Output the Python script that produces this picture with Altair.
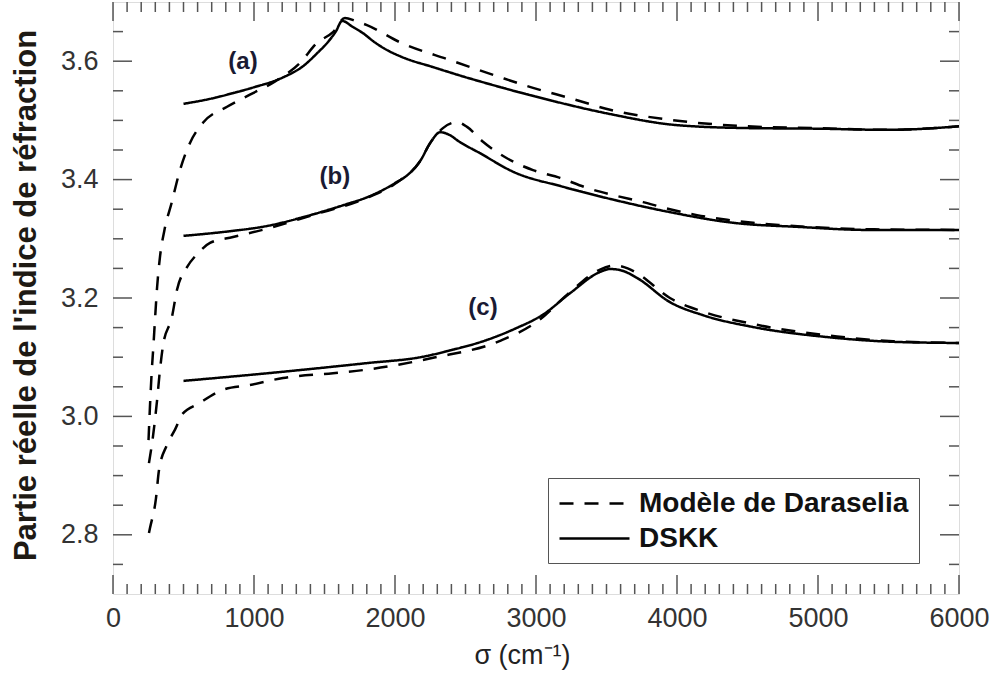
import altair as alt
import pandas as pd

# Wavenumber (cm-1) and real refractive index for the three samples
a_dskk_x = [500, 700, 850, 1000, 1200, 1350, 1450, 1530, 1580, 1625, 1700, 1775, 1850, 1920,
            2050, 2270, 2500, 2750, 3100, 3500, 4000, 4500, 5000, 5500, 6000]
a_dskk_y = [3.528, 3.537, 3.546, 3.556, 3.572, 3.592, 3.614, 3.634, 3.650, 3.668, 3.658, 3.647,
            3.633, 3.622, 3.607, 3.590, 3.573, 3.556, 3.534, 3.512, 3.492, 3.487, 3.486, 3.484, 3.490]
a_dara_x = [252, 262, 274, 286, 299, 313, 333, 365, 415, 475, 546, 638, 809, 993, 1150, 1326,
            1447, 1560, 1645, 1720, 1801, 2035, 2390, 2745, 2979, 3250, 3525, 3950, 4500, 5000,
            5500, 6000]
a_dara_y = [2.960, 3.016, 3.073, 3.117, 3.168, 3.219, 3.269, 3.315, 3.360, 3.416, 3.462, 3.496,
            3.523, 3.546, 3.566, 3.597, 3.631, 3.649, 3.673, 3.668, 3.661, 3.632, 3.602, 3.573,
            3.555, 3.537, 3.518, 3.501, 3.490, 3.487, 3.484, 3.490]

b_dskk_x = [500, 800, 1100, 1400, 1650, 1800, 2000, 2100, 2180, 2250, 2320, 2390, 2450, 2600,
            2840, 3190, 3550, 3930, 4400, 4870, 5350, 6000]
b_dskk_y = [3.305, 3.312, 3.322, 3.340, 3.358, 3.370, 3.394, 3.410, 3.432, 3.462, 3.480, 3.475,
            3.465, 3.445, 3.413, 3.388, 3.366, 3.346, 3.327, 3.320, 3.315, 3.315]
b_dara_x = [255, 284, 312, 333, 355, 418, 454, 525, 600, 688, 851, 1092, 1400, 1800, 2000, 2180,
            2250, 2340, 2440, 2511, 2624, 2794, 2979, 3170, 3362, 3546, 3759, 3950, 4142, 4355,
            4539, 4752, 4943, 5400, 6000]
b_dara_y = [2.921, 2.967, 3.026, 3.078, 3.120, 3.168, 3.214, 3.252, 3.275, 3.293, 3.303, 3.317,
            3.339, 3.369, 3.393, 3.432, 3.462, 3.487, 3.497, 3.489, 3.464, 3.436, 3.416, 3.403,
            3.386, 3.374, 3.362, 3.350, 3.340, 3.332, 3.327, 3.323, 3.320, 3.316, 3.315]

c_dskk_x = [500, 1100, 1800, 2180, 2400, 2650, 2850, 3050, 3241, 3454, 3525, 3600, 3716,
            3950, 4184, 4539, 5064, 5532, 6000]
c_dskk_y = [3.060, 3.073, 3.090, 3.100, 3.112, 3.129, 3.148, 3.172, 3.208, 3.244, 3.249,
            3.247, 3.234, 3.193, 3.171, 3.151, 3.134, 3.126, 3.124]
c_dara_x = [255, 262, 305, 326, 383, 454, 475, 617, 780, 972, 1206, 1560, 1800, 2270, 2750, 3007,
            3241, 3454, 3560, 3650, 3716, 3950, 4184, 4539, 5135, 5532, 6000]
c_dara_y = [2.803, 2.811, 2.862, 2.909, 2.952, 2.985, 2.999, 3.023, 3.045, 3.053, 3.065, 3.073,
            3.079, 3.099, 3.128, 3.160, 3.210, 3.248, 3.255, 3.250, 3.242, 3.200, 3.177, 3.156,
            3.135, 3.127, 3.124]

series_names = ["Modèle de Daraselia", "DSKK"]

# Curve labels
label_text = ["(a)", "(b)", "(c)"]
label_x = [922, 1574, 2624]
label_y = [3.599, 3.404, 3.183]

curves = [
    ("a", series_names[1], a_dskk_x, a_dskk_y),
    ("a", series_names[0], a_dara_x, a_dara_y),
    ("b", series_names[1], b_dskk_x, b_dskk_y),
    ("b", series_names[0], b_dara_x, b_dara_y),
    ("c", series_names[1], c_dskk_x, c_dskk_y),
    ("c", series_names[0], c_dara_x, c_dara_y),
]
rows = []
for curve, series, xs, ys in curves:
    for i, (xv, yv) in enumerate(zip(xs, ys)):
        rows.append({"curve": curve + series, "series": series, "sigma": xv, "n": yv, "i": i})
lines_df = pd.DataFrame(rows)
labels_df = pd.DataFrame({"text": label_text, "sigma": label_x, "n": label_y})

W, H = 846, 592
xscale = alt.Scale(domain=[0, 6000], nice=False, zero=False)
yscale = alt.Scale(domain=[2.7, 3.7], nice=False, zero=False)

x_major = list(range(0, 6001, 1000))
x_minor = [v for v in range(0, 6001, 100) if v % 1000]
y_major = [2.8, 3.0, 3.2, 3.4, 3.6]
y_minor = [2.75, 2.85, 2.9, 2.95, 3.05, 3.1, 3.15, 3.25, 3.3, 3.35, 3.45, 3.5, 3.55, 3.65]

tick_color = "#555555"

x_axis = alt.Axis(values=x_major, format="d", ticks=False, domain=False, grid=False,
                  labelFlush=False, labelFont="Liberation Sans", labelFontSize=27,
                  labelColor="#333333", labelPadding=11, title="σ (cm⁻¹)",
                  titleFont="Liberation Sans", titleFontSize=27, titleFontWeight="normal",
                  titleColor="#222222", titleX=409, titleY=61, titleAlign="center",
                  titleBaseline="middle")
y_axis = alt.Axis(values=y_major, format=".1f", ticks=False, domain=False, grid=False,
                  labelFont="Liberation Sans", labelFontSize=27, labelColor="#333333",
                  labelPadding=15, title="Partie réelle de l'indice de réfraction",
                  titleFont="Liberation Sans", titleFontSize=31, titleFontWeight="bold",
                  titleColor="#1e1a14", titleAngle=270, titleX=-87, titleY=293,
                  titleAlign="center", titleBaseline="middle")

X = alt.X("sigma:Q", scale=xscale, axis=x_axis)
Y = alt.Y("n:Q", scale=yscale, axis=y_axis)

lines = alt.Chart(lines_df).mark_line(color="black", strokeWidth=2.5, interpolate="monotone").encode(
    x=X,
    y=Y,
    detail="curve:N",
    order="i:Q",
    strokeDash=alt.StrokeDash(
        "series:N",
        scale=alt.Scale(domain=series_names, range=[[14, 11], [1, 0]]),
        legend=alt.Legend(orient="none", legendX=435, legendY=476, title=None,
                          symbolType="M-2.5,0H2.5", symbolSize=784, symbolStrokeWidth=2.5,
                          symbolStrokeColor="black", symbolFillColor="transparent",
                          symbolOffset=21, labelFont="Liberation Sans",
                          labelFontSize=28, labelFontWeight="bold", labelColor="#111111",
                          labelOffset=29, rowPadding=5, padding=10, strokeColor="#555555",
                          fillColor="white", labelLimit=400),
    ),
)

labels = alt.Chart(labels_df).mark_text(
    font="Liberation Sans", fontSize=24, fontWeight="bold", color="#1a1a33"
).encode(x=X, y=Y, text="text:N")


def xticks(values, length):
    df = pd.DataFrame({"sigma": values})
    base = alt.Chart(df).mark_rule(color=tick_color, strokeWidth=1.5)
    bottom = base.encode(x=X, y=alt.value(H), y2=alt.value(H - length))
    top = base.encode(x=X, y=alt.value(0), y2=alt.value(length))
    return [bottom, top]


def yticks(values, length):
    df = pd.DataFrame({"n": values})
    base = alt.Chart(df).mark_rule(color=tick_color, strokeWidth=1.5)
    left = base.encode(y=Y, x=alt.value(0), x2=alt.value(length))
    right = base.encode(y=Y, x=alt.value(W), x2=alt.value(W - length))
    return [left, right]


tick_layers = xticks(x_major, 19) + xticks(x_minor, 10) + yticks(y_major, 19) + yticks(y_minor, 10)

chart = alt.layer(lines, labels, *tick_layers).properties(
    width=W, height=H,
    autosize=alt.AutoSizeParams(type="none"),
    padding={"left": 113, "top": 2, "right": 35, "bottom": 81},
).configure_view(stroke="#555555", strokeWidth=2).configure(background="white")

chart.save("out.html", embed_options={"renderer": "svg", "actions": False})
